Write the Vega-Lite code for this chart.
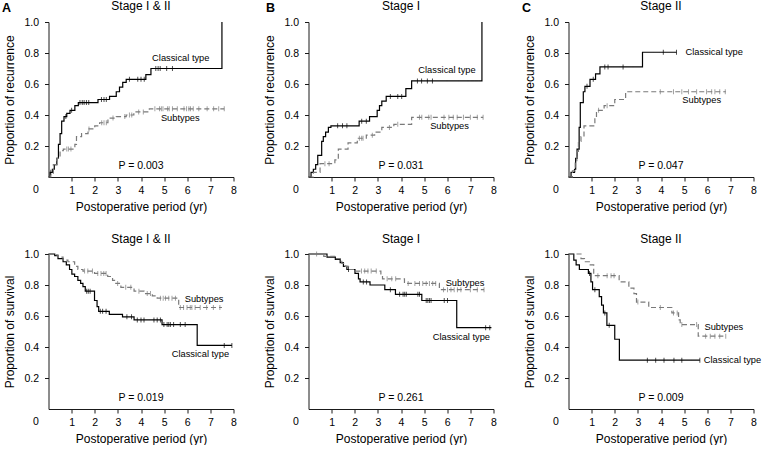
{
"$schema":"https://vega.github.io/schema/vega-lite/v6.json",
"padding":{"left":1.5,"top":0,"right":0,"bottom":0},
"autosize":{"type":"pad"},
"columns":3,
"spacing":{"row":77,"column":75},
"bounds":"flush",
"config":{
 "font":"Liberation Sans",
 "view":{"stroke":null},
 "axis":{"grid":false,"domainColor":"#1a1a1a","tickColor":"#1a1a1a","labelColor":"#000","titleColor":"#000","labelFontSize":10.5,"titleFontSize":12,"titleFontWeight":"normal","tickSize":4,"labelOverlap":false,"tickCount":20},
 "axisX":{"titlePadding":6,"labelPadding":4,"labelFlush":false},
 "axisY":{"labelPadding":6,"titlePadding":7},
 "text":{"color":"#000"}
},
"datasets":{
"curves":[
{"p":"A1","g":"C","t":0,"s":0},{"p":"A1","g":"C","t":0.07,"s":0.03},{"p":"A1","g":"C","t":0.17,"s":0.05},{"p":"A1","g":"C","t":0.25,"s":0.08},{"p":"A1","g":"C","t":0.36,"s":0.12},{"p":"A1","g":"C","t":0.43,"s":0.21},{"p":"A1","g":"C","t":0.5,"s":0.28},{"p":"A1","g":"C","t":0.57,"s":0.36},{"p":"A1","g":"C","t":0.67,"s":0.39},{"p":"A1","g":"C","t":0.79,"s":0.41},{"p":"A1","g":"C","t":0.93,"s":0.43},{"p":"A1","g":"C","t":1.14,"s":0.46},{"p":"A1","g":"C","t":1.29,"s":0.48},{"p":"A1","g":"C","t":2.14,"s":0.5},{"p":"A1","g":"C","t":2.64,"s":0.52},{"p":"A1","g":"C","t":2.93,"s":0.55},{"p":"A1","g":"C","t":3.07,"s":0.58},{"p":"A1","g":"C","t":3.21,"s":0.61},{"p":"A1","g":"C","t":3.36,"s":0.63},{"p":"A1","g":"C","t":4.21,"s":0.66},{"p":"A1","g":"C","t":4.43,"s":0.7},{"p":"A1","g":"C","t":7.5,"s":1},
{"p":"A1","g":"S","t":0,"s":0},{"p":"A1","g":"S","t":0.1,"s":0.02},{"p":"A1","g":"S","t":0.21,"s":0.08},{"p":"A1","g":"S","t":0.36,"s":0.12},{"p":"A1","g":"S","t":0.5,"s":0.17},{"p":"A1","g":"S","t":0.64,"s":0.18},{"p":"A1","g":"S","t":1.14,"s":0.21},{"p":"A1","g":"S","t":1.21,"s":0.26},{"p":"A1","g":"S","t":1.43,"s":0.28},{"p":"A1","g":"S","t":1.71,"s":0.31},{"p":"A1","g":"S","t":2.0,"s":0.33},{"p":"A1","g":"S","t":2.21,"s":0.35},{"p":"A1","g":"S","t":2.57,"s":0.38},{"p":"A1","g":"S","t":2.93,"s":0.39},{"p":"A1","g":"S","t":3.36,"s":0.4},{"p":"A1","g":"S","t":3.69,"s":0.42},{"p":"A1","g":"S","t":4.36,"s":0.44},{"p":"A1","g":"S","t":7.6,"s":0.44},
{"p":"B1","g":"C","t":0,"s":0},{"p":"B1","g":"C","t":0.11,"s":0.03},{"p":"B1","g":"C","t":0.21,"s":0.05},{"p":"B1","g":"C","t":0.31,"s":0.08},{"p":"B1","g":"C","t":0.4,"s":0.14},{"p":"B1","g":"C","t":0.57,"s":0.23},{"p":"B1","g":"C","t":0.64,"s":0.26},{"p":"B1","g":"C","t":0.74,"s":0.29},{"p":"B1","g":"C","t":0.86,"s":0.32},{"p":"B1","g":"C","t":0.97,"s":0.33},{"p":"B1","g":"C","t":2.19,"s":0.36},{"p":"B1","g":"C","t":2.64,"s":0.39},{"p":"B1","g":"C","t":2.97,"s":0.43},{"p":"B1","g":"C","t":3.07,"s":0.46},{"p":"B1","g":"C","t":3.17,"s":0.49},{"p":"B1","g":"C","t":3.36,"s":0.52},{"p":"B1","g":"C","t":4.21,"s":0.57},{"p":"B1","g":"C","t":4.46,"s":0.62},{"p":"B1","g":"C","t":7.5,"s":1},
{"p":"B1","g":"S","t":0,"s":0},{"p":"B1","g":"S","t":0.21,"s":0.03},{"p":"B1","g":"S","t":0.5,"s":0.086},{"p":"B1","g":"S","t":1.14,"s":0.11},{"p":"B1","g":"S","t":1.29,"s":0.18},{"p":"B1","g":"S","t":1.71,"s":0.22},{"p":"B1","g":"S","t":2.11,"s":0.25},{"p":"B1","g":"S","t":2.5,"s":0.27},{"p":"B1","g":"S","t":2.86,"s":0.29},{"p":"B1","g":"S","t":3.17,"s":0.32},{"p":"B1","g":"S","t":3.69,"s":0.34},{"p":"B1","g":"S","t":4.46,"s":0.385},{"p":"B1","g":"S","t":7.55,"s":0.385},
{"p":"C1","g":"C","t":0,"s":0},{"p":"C1","g":"C","t":0.11,"s":0.03},{"p":"C1","g":"C","t":0.26,"s":0.05},{"p":"C1","g":"C","t":0.31,"s":0.12},{"p":"C1","g":"C","t":0.37,"s":0.18},{"p":"C1","g":"C","t":0.46,"s":0.32},{"p":"C1","g":"C","t":0.51,"s":0.48},{"p":"C1","g":"C","t":0.64,"s":0.55},{"p":"C1","g":"C","t":0.71,"s":0.585},{"p":"C1","g":"C","t":0.93,"s":0.63},{"p":"C1","g":"C","t":1.17,"s":0.665},{"p":"C1","g":"C","t":1.36,"s":0.71},{"p":"C1","g":"C","t":3.2,"s":0.805},{"p":"C1","g":"C","t":4.67,"s":0.805},
{"p":"C1","g":"S","t":0,"s":0},{"p":"C1","g":"S","t":0.17,"s":0.04},{"p":"C1","g":"S","t":0.29,"s":0.09},{"p":"C1","g":"S","t":0.36,"s":0.165},{"p":"C1","g":"S","t":0.43,"s":0.23},{"p":"C1","g":"S","t":0.54,"s":0.26},{"p":"C1","g":"S","t":0.67,"s":0.33},{"p":"C1","g":"S","t":1.14,"s":0.38},{"p":"C1","g":"S","t":1.21,"s":0.43},{"p":"C1","g":"S","t":1.54,"s":0.46},{"p":"C1","g":"S","t":2.0,"s":0.5},{"p":"C1","g":"S","t":2.47,"s":0.55},{"p":"C1","g":"S","t":6.8,"s":0.55},
{"p":"A2","g":"C","t":0,"s":1},{"p":"A2","g":"C","t":0.27,"s":0.99},{"p":"A2","g":"C","t":0.41,"s":0.97},{"p":"A2","g":"C","t":0.63,"s":0.95},{"p":"A2","g":"C","t":0.77,"s":0.93},{"p":"A2","g":"C","t":0.91,"s":0.9},{"p":"A2","g":"C","t":1.01,"s":0.87},{"p":"A2","g":"C","t":1.13,"s":0.855},{"p":"A2","g":"C","t":1.27,"s":0.83},{"p":"A2","g":"C","t":1.39,"s":0.81},{"p":"A2","g":"C","t":1.49,"s":0.79},{"p":"A2","g":"C","t":1.59,"s":0.76},{"p":"A2","g":"C","t":1.99,"s":0.7},{"p":"A2","g":"C","t":2.1,"s":0.66},{"p":"A2","g":"C","t":2.17,"s":0.63},{"p":"A2","g":"C","t":2.63,"s":0.61},{"p":"A2","g":"C","t":3.2,"s":0.595},{"p":"A2","g":"C","t":3.7,"s":0.575},{"p":"A2","g":"C","t":4.91,"s":0.545},{"p":"A2","g":"C","t":6.43,"s":0.41},{"p":"A2","g":"C","t":7.93,"s":0.41},
{"p":"A2","g":"S","t":0,"s":1},{"p":"A2","g":"S","t":0.2,"s":0.995},{"p":"A2","g":"S","t":0.41,"s":0.98},{"p":"A2","g":"S","t":0.63,"s":0.96},{"p":"A2","g":"S","t":0.84,"s":0.95},{"p":"A2","g":"S","t":1.13,"s":0.92},{"p":"A2","g":"S","t":1.27,"s":0.9},{"p":"A2","g":"S","t":1.49,"s":0.89},{"p":"A2","g":"S","t":1.99,"s":0.875},{"p":"A2","g":"S","t":2.56,"s":0.855},{"p":"A2","g":"S","t":2.77,"s":0.83},{"p":"A2","g":"S","t":2.91,"s":0.81},{"p":"A2","g":"S","t":3.13,"s":0.785},{"p":"A2","g":"S","t":3.7,"s":0.76},{"p":"A2","g":"S","t":4.13,"s":0.745},{"p":"A2","g":"S","t":4.49,"s":0.73},{"p":"A2","g":"S","t":4.7,"s":0.715},{"p":"A2","g":"S","t":5.63,"s":0.655},{"p":"A2","g":"S","t":7.5,"s":0.655},
{"p":"B2","g":"C","t":0,"s":1},{"p":"B2","g":"C","t":0.8,"s":0.98},{"p":"B2","g":"C","t":1.16,"s":0.965},{"p":"B2","g":"C","t":1.37,"s":0.945},{"p":"B2","g":"C","t":1.51,"s":0.92},{"p":"B2","g":"C","t":1.66,"s":0.9},{"p":"B2","g":"C","t":2.01,"s":0.875},{"p":"B2","g":"C","t":2.16,"s":0.84},{"p":"B2","g":"C","t":2.23,"s":0.82},{"p":"B2","g":"C","t":2.66,"s":0.8},{"p":"B2","g":"C","t":3.3,"s":0.77},{"p":"B2","g":"C","t":3.76,"s":0.74},{"p":"B2","g":"C","t":4.9,"s":0.7},{"p":"B2","g":"C","t":6.41,"s":0.525},{"p":"B2","g":"C","t":7.91,"s":0.525},
{"p":"B2","g":"S","t":0,"s":1},{"p":"B2","g":"S","t":0.66,"s":0.985},{"p":"B2","g":"S","t":1.16,"s":0.97},{"p":"B2","g":"S","t":1.44,"s":0.94},{"p":"B2","g":"S","t":1.59,"s":0.92},{"p":"B2","g":"S","t":1.73,"s":0.9},{"p":"B2","g":"S","t":2.01,"s":0.89},{"p":"B2","g":"S","t":3.13,"s":0.865},{"p":"B2","g":"S","t":3.2,"s":0.84},{"p":"B2","g":"S","t":4.15,"s":0.81},{"p":"B2","g":"S","t":5.66,"s":0.77},{"p":"B2","g":"S","t":7.59,"s":0.77},
{"p":"C2","g":"C","t":0,"s":1},{"p":"C2","g":"C","t":0.23,"s":0.96},{"p":"C2","g":"C","t":0.33,"s":0.93},{"p":"C2","g":"C","t":0.47,"s":0.9},{"p":"C2","g":"C","t":0.86,"s":0.875},{"p":"C2","g":"C","t":0.97,"s":0.82},{"p":"C2","g":"C","t":1.04,"s":0.77},{"p":"C2","g":"C","t":1.33,"s":0.725},{"p":"C2","g":"C","t":1.43,"s":0.67},{"p":"C2","g":"C","t":1.51,"s":0.62},{"p":"C2","g":"C","t":1.66,"s":0.54},{"p":"C2","g":"C","t":2.0,"s":0.45},{"p":"C2","g":"C","t":2.2,"s":0.315},{"p":"C2","g":"C","t":5.68,"s":0.315},
{"p":"C2","g":"S","t":0,"s":1},{"p":"C2","g":"S","t":0.54,"s":0.97},{"p":"C2","g":"S","t":0.69,"s":0.95},{"p":"C2","g":"S","t":0.9,"s":0.93},{"p":"C2","g":"S","t":1.09,"s":0.86},{"p":"C2","g":"S","t":2.19,"s":0.82},{"p":"C2","g":"S","t":2.61,"s":0.78},{"p":"C2","g":"S","t":2.83,"s":0.745},{"p":"C2","g":"S","t":2.94,"s":0.69},{"p":"C2","g":"S","t":3.47,"s":0.655},{"p":"C2","g":"S","t":4.47,"s":0.62},{"p":"C2","g":"S","t":4.76,"s":0.575},{"p":"C2","g":"S","t":4.83,"s":0.545},{"p":"C2","g":"S","t":5.61,"s":0.47},{"p":"C2","g":"S","t":6.8,"s":0.47}
],
"censors":[
{"p":"A1","g":"C","t":0.1,"s":0.03},{"p":"A1","g":"C","t":0.75,"s":0.39},{"p":"A1","g":"C","t":1.0,"s":0.43},{"p":"A1","g":"C","t":1.36,"s":0.48},{"p":"A1","g":"C","t":1.46,"s":0.48},{"p":"A1","g":"C","t":1.54,"s":0.48},{"p":"A1","g":"C","t":1.64,"s":0.48},{"p":"A1","g":"C","t":1.74,"s":0.48},{"p":"A1","g":"C","t":2.29,"s":0.5},{"p":"A1","g":"C","t":2.4,"s":0.5},{"p":"A1","g":"C","t":2.5,"s":0.5},{"p":"A1","g":"C","t":3.5,"s":0.63},{"p":"A1","g":"C","t":3.86,"s":0.63},{"p":"A1","g":"C","t":4.0,"s":0.63},{"p":"A1","g":"C","t":4.14,"s":0.63},{"p":"A1","g":"C","t":4.64,"s":0.7},{"p":"A1","g":"C","t":4.74,"s":0.7},{"p":"A1","g":"C","t":4.83,"s":0.7},{"p":"A1","g":"C","t":5.11,"s":0.7},{"p":"A1","g":"C","t":5.36,"s":0.7},
{"p":"A1","g":"S","t":0.79,"s":0.18},{"p":"A1","g":"S","t":0.86,"s":0.18},{"p":"A1","g":"S","t":0.97,"s":0.18},{"p":"A1","g":"S","t":1.75,"s":0.31},{"p":"A1","g":"S","t":2.3,"s":0.35},{"p":"A1","g":"S","t":2.4,"s":0.35},{"p":"A1","g":"S","t":2.5,"s":0.35},{"p":"A1","g":"S","t":2.79,"s":0.38},{"p":"A1","g":"S","t":3.3,"s":0.39},{"p":"A1","g":"S","t":3.5,"s":0.4},{"p":"A1","g":"S","t":3.6,"s":0.4},{"p":"A1","g":"S","t":3.9,"s":0.42},{"p":"A1","g":"S","t":4.1,"s":0.42},{"p":"A1","g":"S","t":4.6,"s":0.44},{"p":"A1","g":"S","t":4.8,"s":0.44},{"p":"A1","g":"S","t":4.88,"s":0.44},{"p":"A1","g":"S","t":4.95,"s":0.44},{"p":"A1","g":"S","t":5.15,"s":0.44},{"p":"A1","g":"S","t":5.22,"s":0.44},{"p":"A1","g":"S","t":5.36,"s":0.44},{"p":"A1","g":"S","t":5.57,"s":0.44},{"p":"A1","g":"S","t":5.86,"s":0.44},{"p":"A1","g":"S","t":5.97,"s":0.44},{"p":"A1","g":"S","t":6.07,"s":0.44},{"p":"A1","g":"S","t":6.14,"s":0.44},{"p":"A1","g":"S","t":6.26,"s":0.44},{"p":"A1","g":"S","t":6.5,"s":0.44},{"p":"A1","g":"S","t":6.86,"s":0.44},{"p":"A1","g":"S","t":7.14,"s":0.44},{"p":"A1","g":"S","t":7.36,"s":0.44},{"p":"A1","g":"S","t":7.6,"s":0.44},
{"p":"B1","g":"C","t":1.26,"s":0.33},{"p":"B1","g":"C","t":1.47,"s":0.33},{"p":"B1","g":"C","t":1.66,"s":0.33},{"p":"B1","g":"C","t":2.3,"s":0.36},{"p":"B1","g":"C","t":2.5,"s":0.36},{"p":"B1","g":"C","t":3.54,"s":0.52},{"p":"B1","g":"C","t":3.86,"s":0.52},{"p":"B1","g":"C","t":4.03,"s":0.52},{"p":"B1","g":"C","t":4.71,"s":0.62},{"p":"B1","g":"C","t":4.89,"s":0.62},{"p":"B1","g":"C","t":5.14,"s":0.62},{"p":"B1","g":"C","t":5.36,"s":0.62},
{"p":"B1","g":"S","t":0.71,"s":0.086},{"p":"B1","g":"S","t":0.89,"s":0.086},{"p":"B1","g":"S","t":2.2,"s":0.25},{"p":"B1","g":"S","t":2.3,"s":0.25},{"p":"B1","g":"S","t":2.36,"s":0.25},{"p":"B1","g":"S","t":2.76,"s":0.27},{"p":"B1","g":"S","t":3.5,"s":0.32},{"p":"B1","g":"S","t":3.86,"s":0.34},{"p":"B1","g":"S","t":4.8,"s":0.385},{"p":"B1","g":"S","t":4.9,"s":0.385},{"p":"B1","g":"S","t":5.2,"s":0.385},{"p":"B1","g":"S","t":5.3,"s":0.385},{"p":"B1","g":"S","t":5.86,"s":0.385},{"p":"B1","g":"S","t":6.07,"s":0.385},{"p":"B1","g":"S","t":6.26,"s":0.385},{"p":"B1","g":"S","t":6.43,"s":0.385},{"p":"B1","g":"S","t":6.7,"s":0.385},{"p":"B1","g":"S","t":7.0,"s":0.385},{"p":"B1","g":"S","t":7.3,"s":0.385},{"p":"B1","g":"S","t":7.55,"s":0.385},
{"p":"C1","g":"C","t":0.8,"s":0.585},{"p":"C1","g":"C","t":1.07,"s":0.63},{"p":"C1","g":"C","t":1.57,"s":0.71},{"p":"C1","g":"C","t":1.71,"s":0.71},{"p":"C1","g":"C","t":2.36,"s":0.71},{"p":"C1","g":"C","t":4.1,"s":0.805},{"p":"C1","g":"C","t":4.67,"s":0.805},
{"p":"C1","g":"S","t":1.3,"s":0.43},{"p":"C1","g":"S","t":1.67,"s":0.46},{"p":"C1","g":"S","t":3.97,"s":0.55},{"p":"C1","g":"S","t":4.54,"s":0.55},{"p":"C1","g":"S","t":4.9,"s":0.55},{"p":"C1","g":"S","t":5.19,"s":0.55},{"p":"C1","g":"S","t":5.54,"s":0.55},{"p":"C1","g":"S","t":5.97,"s":0.55},{"p":"C1","g":"S","t":6.19,"s":0.55},{"p":"C1","g":"S","t":6.33,"s":0.55},{"p":"C1","g":"S","t":6.54,"s":0.55},{"p":"C1","g":"S","t":6.78,"s":0.55},
{"p":"A2","g":"C","t":1.65,"s":0.76},{"p":"A2","g":"C","t":1.72,"s":0.76},{"p":"A2","g":"C","t":1.8,"s":0.76},{"p":"A2","g":"C","t":2.24,"s":0.63},{"p":"A2","g":"C","t":2.34,"s":0.63},{"p":"A2","g":"C","t":2.49,"s":0.63},{"p":"A2","g":"C","t":3.39,"s":0.595},{"p":"A2","g":"C","t":3.59,"s":0.595},{"p":"A2","g":"C","t":3.84,"s":0.575},{"p":"A2","g":"C","t":4.0,"s":0.575},{"p":"A2","g":"C","t":4.13,"s":0.575},{"p":"A2","g":"C","t":4.56,"s":0.575},{"p":"A2","g":"C","t":4.7,"s":0.575},{"p":"A2","g":"C","t":4.84,"s":0.575},{"p":"A2","g":"C","t":4.99,"s":0.545},{"p":"A2","g":"C","t":5.13,"s":0.545},{"p":"A2","g":"C","t":5.2,"s":0.545},{"p":"A2","g":"C","t":5.27,"s":0.545},{"p":"A2","g":"C","t":5.41,"s":0.545},{"p":"A2","g":"C","t":5.7,"s":0.545},{"p":"A2","g":"C","t":5.91,"s":0.545},{"p":"A2","g":"C","t":7.6,"s":0.41},{"p":"A2","g":"C","t":7.93,"s":0.41},
{"p":"A2","g":"S","t":1.56,"s":0.89},{"p":"A2","g":"S","t":1.7,"s":0.89},{"p":"A2","g":"S","t":1.9,"s":0.89},{"p":"A2","g":"S","t":2.13,"s":0.875},{"p":"A2","g":"S","t":2.27,"s":0.875},{"p":"A2","g":"S","t":2.39,"s":0.875},{"p":"A2","g":"S","t":2.49,"s":0.875},{"p":"A2","g":"S","t":2.99,"s":0.81},{"p":"A2","g":"S","t":3.34,"s":0.785},{"p":"A2","g":"S","t":3.56,"s":0.785},{"p":"A2","g":"S","t":3.91,"s":0.76},{"p":"A2","g":"S","t":4.27,"s":0.745},{"p":"A2","g":"S","t":4.41,"s":0.745},{"p":"A2","g":"S","t":4.84,"s":0.715},{"p":"A2","g":"S","t":4.96,"s":0.715},{"p":"A2","g":"S","t":5.06,"s":0.715},{"p":"A2","g":"S","t":5.2,"s":0.715},{"p":"A2","g":"S","t":5.34,"s":0.715},{"p":"A2","g":"S","t":5.49,"s":0.715},{"p":"A2","g":"S","t":5.7,"s":0.655},{"p":"A2","g":"S","t":5.84,"s":0.655},{"p":"A2","g":"S","t":5.99,"s":0.655},{"p":"A2","g":"S","t":6.13,"s":0.655},{"p":"A2","g":"S","t":6.2,"s":0.655},{"p":"A2","g":"S","t":6.34,"s":0.655},{"p":"A2","g":"S","t":6.56,"s":0.655},{"p":"A2","g":"S","t":6.84,"s":0.655},{"p":"A2","g":"S","t":7.13,"s":0.655},{"p":"A2","g":"S","t":7.41,"s":0.655},
{"p":"B2","g":"C","t":1.73,"s":0.9},{"p":"B2","g":"C","t":2.37,"s":0.82},{"p":"B2","g":"C","t":2.51,"s":0.82},{"p":"B2","g":"C","t":3.54,"s":0.77},{"p":"B2","g":"C","t":3.94,"s":0.74},{"p":"B2","g":"C","t":4.09,"s":0.74},{"p":"B2","g":"C","t":4.16,"s":0.74},{"p":"B2","g":"C","t":4.23,"s":0.74},{"p":"B2","g":"C","t":4.73,"s":0.74},{"p":"B2","g":"C","t":4.8,"s":0.74},{"p":"B2","g":"C","t":5.09,"s":0.7},{"p":"B2","g":"C","t":5.16,"s":0.7},{"p":"B2","g":"C","t":5.23,"s":0.7},{"p":"B2","g":"C","t":5.3,"s":0.7},{"p":"B2","g":"C","t":5.87,"s":0.7},{"p":"B2","g":"C","t":6.01,"s":0.7},{"p":"B2","g":"C","t":7.66,"s":0.525},{"p":"B2","g":"C","t":7.84,"s":0.525},
{"p":"B2","g":"S","t":0.35,"s":1},{"p":"B2","g":"S","t":2.29,"s":0.89},{"p":"B2","g":"S","t":2.43,"s":0.89},{"p":"B2","g":"S","t":2.57,"s":0.89},{"p":"B2","g":"S","t":2.71,"s":0.89},{"p":"B2","g":"S","t":2.93,"s":0.89},{"p":"B2","g":"S","t":3.4,"s":0.84},{"p":"B2","g":"S","t":3.6,"s":0.84},{"p":"B2","g":"S","t":3.77,"s":0.84},{"p":"B2","g":"S","t":4.31,"s":0.81},{"p":"B2","g":"S","t":4.6,"s":0.81},{"p":"B2","g":"S","t":4.8,"s":0.81},{"p":"B2","g":"S","t":4.94,"s":0.81},{"p":"B2","g":"S","t":5.09,"s":0.81},{"p":"B2","g":"S","t":5.23,"s":0.81},{"p":"B2","g":"S","t":5.37,"s":0.81},{"p":"B2","g":"S","t":5.5,"s":0.81},{"p":"B2","g":"S","t":5.84,"s":0.77},{"p":"B2","g":"S","t":6.01,"s":0.77},{"p":"B2","g":"S","t":6.16,"s":0.77},{"p":"B2","g":"S","t":6.3,"s":0.77},{"p":"B2","g":"S","t":6.44,"s":0.77},{"p":"B2","g":"S","t":6.59,"s":0.77},{"p":"B2","g":"S","t":7.0,"s":0.77},{"p":"B2","g":"S","t":7.3,"s":0.77},{"p":"B2","g":"S","t":7.59,"s":0.77},
{"p":"C2","g":"C","t":0.91,"s":0.875},{"p":"C2","g":"C","t":1.14,"s":0.77},{"p":"C2","g":"C","t":1.57,"s":0.62},{"p":"C2","g":"C","t":1.76,"s":0.54},{"p":"C2","g":"C","t":3.41,"s":0.315},{"p":"C2","g":"C","t":3.77,"s":0.315},{"p":"C2","g":"C","t":4.13,"s":0.315},{"p":"C2","g":"C","t":4.56,"s":0.315},{"p":"C2","g":"C","t":4.9,"s":0.315},{"p":"C2","g":"C","t":5.68,"s":0.315},
{"p":"C2","g":"S","t":1.27,"s":0.86},{"p":"C2","g":"S","t":1.67,"s":0.86},{"p":"C2","g":"S","t":1.84,"s":0.86},{"p":"C2","g":"S","t":1.97,"s":0.86},{"p":"C2","g":"S","t":3.0,"s":0.69},{"p":"C2","g":"S","t":3.97,"s":0.655},{"p":"C2","g":"S","t":4.54,"s":0.62},{"p":"C2","g":"S","t":4.7,"s":0.62},{"p":"C2","g":"S","t":4.9,"s":0.545},{"p":"C2","g":"S","t":5.54,"s":0.545},{"p":"C2","g":"S","t":5.93,"s":0.47},{"p":"C2","g":"S","t":6.13,"s":0.47},{"p":"C2","g":"S","t":6.33,"s":0.47},{"p":"C2","g":"S","t":6.54,"s":0.47},{"p":"C2","g":"S","t":6.8,"s":0.47}
]
},
"concat":[
{"width":185,"height":155,"layer":[
 {"data":{"name":"curves"},"transform":[{"filter":"datum.p==='A1'"}],"mark":{"type":"line","interpolate":"step-after","strokeWidth":1.2},"encoding":{"x":{"field":"t","type":"quantitative","scale":{"domain":[0,8],"nice":false},"axis":{"values":[1,2,3,4,5,6,7,8],"format":"d","labelOverlap":false,"tickCount":20},"title":"Postoperative period (yr)"},"y":{"field":"s","type":"quantitative","scale":{"domain":[0,1],"nice":false},"axis":{"values":[0.2,0.4,0.6,0.8,1],"format":".1f","labelOverlap":false,"tickCount":20},"title":"Proportion of recurrence"},"color":{"field":"g","type":"nominal","scale":{"domain":["C","S"],"range":["#000000","#7a7a7a"]},"legend":null},"strokeDash":{"field":"g","type":"nominal","scale":{"domain":["C","S"],"range":[[1,0],[5,3]]},"legend":null}}},
 {"data":{"name":"censors"},"transform":[{"filter":"datum.p==='A1'"}],"mark":{"type":"tick","orient":"vertical","size":5,"thickness":1},"encoding":{"x":{"field":"t","type":"quantitative"},"y":{"field":"s","type":"quantitative"},"color":{"field":"g","type":"nominal","legend":null}}},
 {"data":{"values":[{}]},"mark":{"type":"text","align":"left","baseline":"middle","fontSize":9.3},"encoding":{"x":{"datum":4.48},"y":{"datum":0.77},"text":{"value":"Classical type"}}},
 {"data":{"values":[{}]},"mark":{"type":"text","align":"left","baseline":"middle","fontSize":9.3},"encoding":{"x":{"datum":4.86},"y":{"datum":0.38},"text":{"value":"Subtypes"}}},
 {"data":{"values":[{}]},"mark":{"type":"text","align":"center","baseline":"middle","fontSize":10.5},"encoding":{"x":{"datum":4},"y":{"datum":0.073},"text":{"value":"P = 0.003"}}},
 {"data":{"values":[{}]},"mark":{"type":"text","align":"center","baseline":"top","dx":-12.5,"dy":8,"fontSize":10.5},"encoding":{"x":{"datum":0},"y":{"datum":0},"text":{"value":"0"}}},
 {"data":{"values":[{}]},"mark":{"type":"text","align":"center","baseline":"alphabetic","dy":-12,"fontSize":12},"encoding":{"x":{"datum":4},"y":{"datum":1},"text":{"value":"Stage I & II"}}},
 {"data":{"values":[{}]},"mark":{"type":"text","align":"left","baseline":"alphabetic","dx":-46.5,"dy":-10.5,"fontSize":12.5,"fontWeight":"bold"},"encoding":{"x":{"datum":0},"y":{"datum":1},"text":{"value":"A"}}}
]},
{"width":185,"height":155,"layer":[
 {"data":{"name":"curves"},"transform":[{"filter":"datum.p==='B1'"}],"mark":{"type":"line","interpolate":"step-after","strokeWidth":1.2},"encoding":{"x":{"field":"t","type":"quantitative","scale":{"domain":[0,8],"nice":false},"axis":{"values":[1,2,3,4,5,6,7,8],"format":"d","labelOverlap":false,"tickCount":20},"title":"Postoperative period (yr)"},"y":{"field":"s","type":"quantitative","scale":{"domain":[0,1],"nice":false},"axis":{"values":[0.2,0.4,0.6,0.8,1],"format":".1f","labelOverlap":false,"tickCount":20},"title":"Proportion of recurrence"},"color":{"field":"g","type":"nominal","scale":{"domain":["C","S"],"range":["#000000","#7a7a7a"]},"legend":null},"strokeDash":{"field":"g","type":"nominal","scale":{"domain":["C","S"],"range":[[1,0],[5,3]]},"legend":null}}},
 {"data":{"name":"censors"},"transform":[{"filter":"datum.p==='B1'"}],"mark":{"type":"tick","orient":"vertical","size":5,"thickness":1},"encoding":{"x":{"field":"t","type":"quantitative"},"y":{"field":"s","type":"quantitative"},"color":{"field":"g","type":"nominal","legend":null}}},
 {"data":{"values":[{}]},"mark":{"type":"text","align":"left","baseline":"middle","fontSize":9.3},"encoding":{"x":{"datum":4.75},"y":{"datum":0.69},"text":{"value":"Classical type"}}},
 {"data":{"values":[{}]},"mark":{"type":"text","align":"left","baseline":"middle","fontSize":9.3},"encoding":{"x":{"datum":5.26},"y":{"datum":0.327},"text":{"value":"Subtypes"}}},
 {"data":{"values":[{}]},"mark":{"type":"text","align":"center","baseline":"middle","fontSize":10.5},"encoding":{"x":{"datum":4},"y":{"datum":0.073},"text":{"value":"P = 0.031"}}},
 {"data":{"values":[{}]},"mark":{"type":"text","align":"center","baseline":"top","dx":-12.5,"dy":8,"fontSize":10.5},"encoding":{"x":{"datum":0},"y":{"datum":0},"text":{"value":"0"}}},
 {"data":{"values":[{}]},"mark":{"type":"text","align":"center","baseline":"alphabetic","dy":-12,"fontSize":12},"encoding":{"x":{"datum":4},"y":{"datum":1},"text":{"value":"Stage I"}}},
 {"data":{"values":[{}]},"mark":{"type":"text","align":"left","baseline":"alphabetic","dx":-42.5,"dy":-10.5,"fontSize":12.5,"fontWeight":"bold"},"encoding":{"x":{"datum":0},"y":{"datum":1},"text":{"value":"B"}}}
]},
{"width":185,"height":155,"layer":[
 {"data":{"name":"curves"},"transform":[{"filter":"datum.p==='C1'"}],"mark":{"type":"line","interpolate":"step-after","strokeWidth":1.2},"encoding":{"x":{"field":"t","type":"quantitative","scale":{"domain":[0,8],"nice":false},"axis":{"values":[1,2,3,4,5,6,7,8],"format":"d","labelOverlap":false,"tickCount":20},"title":"Postoperative period (yr)"},"y":{"field":"s","type":"quantitative","scale":{"domain":[0,1],"nice":false},"axis":{"values":[0.2,0.4,0.6,0.8,1],"format":".1f","labelOverlap":false,"tickCount":20},"title":"Proportion of recurrence"},"color":{"field":"g","type":"nominal","scale":{"domain":["C","S"],"range":["#000000","#7a7a7a"]},"legend":null},"strokeDash":{"field":"g","type":"nominal","scale":{"domain":["C","S"],"range":[[1,0],[5,3]]},"legend":null}}},
 {"data":{"name":"censors"},"transform":[{"filter":"datum.p==='C1'"}],"mark":{"type":"tick","orient":"vertical","size":5,"thickness":1},"encoding":{"x":{"field":"t","type":"quantitative"},"y":{"field":"s","type":"quantitative"},"color":{"field":"g","type":"nominal","legend":null}}},
 {"data":{"values":[{}]},"mark":{"type":"text","align":"left","baseline":"middle","fontSize":9.3},"encoding":{"x":{"datum":5.06},"y":{"datum":0.805},"text":{"value":"Classical type"}}},
 {"data":{"values":[{}]},"mark":{"type":"text","align":"left","baseline":"middle","fontSize":9.3},"encoding":{"x":{"datum":4.92},"y":{"datum":0.5},"text":{"value":"Subtypes"}}},
 {"data":{"values":[{}]},"mark":{"type":"text","align":"center","baseline":"middle","fontSize":10.5},"encoding":{"x":{"datum":4},"y":{"datum":0.073},"text":{"value":"P = 0.047"}}},
 {"data":{"values":[{}]},"mark":{"type":"text","align":"center","baseline":"top","dx":-12.5,"dy":8,"fontSize":10.5},"encoding":{"x":{"datum":0},"y":{"datum":0},"text":{"value":"0"}}},
 {"data":{"values":[{}]},"mark":{"type":"text","align":"center","baseline":"alphabetic","dy":-12,"fontSize":12},"encoding":{"x":{"datum":4},"y":{"datum":1},"text":{"value":"Stage II"}}},
 {"data":{"values":[{}]},"mark":{"type":"text","align":"left","baseline":"alphabetic","dx":-46.5,"dy":-10.5,"fontSize":12.5,"fontWeight":"bold"},"encoding":{"x":{"datum":0},"y":{"datum":1},"text":{"value":"C"}}}
]},
{"width":185,"height":155,"layer":[
 {"data":{"name":"curves"},"transform":[{"filter":"datum.p==='A2'"}],"mark":{"type":"line","interpolate":"step-after","strokeWidth":1.2},"encoding":{"x":{"field":"t","type":"quantitative","scale":{"domain":[0,8],"nice":false},"axis":{"values":[1,2,3,4,5,6,7,8],"format":"d","labelOverlap":false,"tickCount":20},"title":"Postoperative period (yr)"},"y":{"field":"s","type":"quantitative","scale":{"domain":[0,1],"nice":false},"axis":{"values":[0.2,0.4,0.6,0.8,1],"format":".1f","labelOverlap":false,"tickCount":20},"title":"Proportion of survival"},"color":{"field":"g","type":"nominal","scale":{"domain":["C","S"],"range":["#000000","#7a7a7a"]},"legend":null},"strokeDash":{"field":"g","type":"nominal","scale":{"domain":["C","S"],"range":[[1,0],[5,3]]},"legend":null}}},
 {"data":{"name":"censors"},"transform":[{"filter":"datum.p==='A2'"}],"mark":{"type":"tick","orient":"vertical","size":5,"thickness":1},"encoding":{"x":{"field":"t","type":"quantitative"},"y":{"field":"s","type":"quantitative"},"color":{"field":"g","type":"nominal","legend":null}}},
 {"data":{"values":[{}]},"mark":{"type":"text","align":"left","baseline":"middle","fontSize":9.3},"encoding":{"x":{"datum":5.33},"y":{"datum":0.355},"text":{"value":"Classical type"}}},
 {"data":{"values":[{}]},"mark":{"type":"text","align":"left","baseline":"middle","fontSize":9.3},"encoding":{"x":{"datum":5.89},"y":{"datum":0.708},"text":{"value":"Subtypes"}}},
 {"data":{"values":[{}]},"mark":{"type":"text","align":"center","baseline":"middle","fontSize":10.5},"encoding":{"x":{"datum":4},"y":{"datum":0.073},"text":{"value":"P = 0.019"}}},
 {"data":{"values":[{}]},"mark":{"type":"text","align":"center","baseline":"top","dx":-12.5,"dy":8,"fontSize":10.5},"encoding":{"x":{"datum":0},"y":{"datum":0},"text":{"value":"0"}}},
 {"data":{"values":[{}]},"mark":{"type":"text","align":"center","baseline":"alphabetic","dy":-11,"fontSize":12},"encoding":{"x":{"datum":4},"y":{"datum":1},"text":{"value":"Stage I & II"}}}
]},
{"width":185,"height":155,"layer":[
 {"data":{"name":"curves"},"transform":[{"filter":"datum.p==='B2'"}],"mark":{"type":"line","interpolate":"step-after","strokeWidth":1.2},"encoding":{"x":{"field":"t","type":"quantitative","scale":{"domain":[0,8],"nice":false},"axis":{"values":[1,2,3,4,5,6,7,8],"format":"d","labelOverlap":false,"tickCount":20},"title":"Postoperative period (yr)"},"y":{"field":"s","type":"quantitative","scale":{"domain":[0,1],"nice":false},"axis":{"values":[0.2,0.4,0.6,0.8,1],"format":".1f","labelOverlap":false,"tickCount":20},"title":"Proportion of survival"},"color":{"field":"g","type":"nominal","scale":{"domain":["C","S"],"range":["#000000","#7a7a7a"]},"legend":null},"strokeDash":{"field":"g","type":"nominal","scale":{"domain":["C","S"],"range":[[1,0],[5,3]]},"legend":null}}},
 {"data":{"name":"censors"},"transform":[{"filter":"datum.p==='B2'"}],"mark":{"type":"tick","orient":"vertical","size":5,"thickness":1},"encoding":{"x":{"field":"t","type":"quantitative"},"y":{"field":"s","type":"quantitative"},"color":{"field":"g","type":"nominal","legend":null}}},
 {"data":{"values":[{}]},"mark":{"type":"text","align":"left","baseline":"middle","fontSize":9.3},"encoding":{"x":{"datum":5.37},"y":{"datum":0.463},"text":{"value":"Classical type"}}},
 {"data":{"values":[{}]},"mark":{"type":"text","align":"left","baseline":"middle","fontSize":9.3},"encoding":{"x":{"datum":5.93},"y":{"datum":0.81},"text":{"value":"Subtypes"}}},
 {"data":{"values":[{}]},"mark":{"type":"text","align":"center","baseline":"middle","fontSize":10.5},"encoding":{"x":{"datum":4},"y":{"datum":0.073},"text":{"value":"P = 0.261"}}},
 {"data":{"values":[{}]},"mark":{"type":"text","align":"center","baseline":"top","dx":-12.5,"dy":8,"fontSize":10.5},"encoding":{"x":{"datum":0},"y":{"datum":0},"text":{"value":"0"}}},
 {"data":{"values":[{}]},"mark":{"type":"text","align":"center","baseline":"alphabetic","dy":-11,"fontSize":12},"encoding":{"x":{"datum":4},"y":{"datum":1},"text":{"value":"Stage I"}}}
]},
{"width":185,"height":155,"layer":[
 {"data":{"name":"curves"},"transform":[{"filter":"datum.p==='C2'"}],"mark":{"type":"line","interpolate":"step-after","strokeWidth":1.2},"encoding":{"x":{"field":"t","type":"quantitative","scale":{"domain":[0,8],"nice":false},"axis":{"values":[1,2,3,4,5,6,7,8],"format":"d","labelOverlap":false,"tickCount":20},"title":"Postoperative period (yr)"},"y":{"field":"s","type":"quantitative","scale":{"domain":[0,1],"nice":false},"axis":{"values":[0.2,0.4,0.6,0.8,1],"format":".1f","labelOverlap":false,"tickCount":20},"title":"Proportion of survival"},"color":{"field":"g","type":"nominal","scale":{"domain":["C","S"],"range":["#000000","#7a7a7a"]},"legend":null},"strokeDash":{"field":"g","type":"nominal","scale":{"domain":["C","S"],"range":[[1,0],[5,3]]},"legend":null}}},
 {"data":{"name":"censors"},"transform":[{"filter":"datum.p==='C2'"}],"mark":{"type":"tick","orient":"vertical","size":5,"thickness":1},"encoding":{"x":{"field":"t","type":"quantitative"},"y":{"field":"s","type":"quantitative"},"color":{"field":"g","type":"nominal","legend":null}}},
 {"data":{"values":[{}]},"mark":{"type":"text","align":"left","baseline":"middle","fontSize":9.3},"encoding":{"x":{"datum":5.85},"y":{"datum":0.316},"text":{"value":"Classical type"}}},
 {"data":{"values":[{}]},"mark":{"type":"text","align":"left","baseline":"middle","fontSize":9.3},"encoding":{"x":{"datum":5.88},"y":{"datum":0.531},"text":{"value":"Subtypes"}}},
 {"data":{"values":[{}]},"mark":{"type":"text","align":"center","baseline":"middle","fontSize":10.5},"encoding":{"x":{"datum":4},"y":{"datum":0.073},"text":{"value":"P = 0.009"}}},
 {"data":{"values":[{}]},"mark":{"type":"text","align":"center","baseline":"top","dx":-12.5,"dy":8,"fontSize":10.5},"encoding":{"x":{"datum":0},"y":{"datum":0},"text":{"value":"0"}}},
 {"data":{"values":[{}]},"mark":{"type":"text","align":"center","baseline":"alphabetic","dy":-11,"fontSize":12},"encoding":{"x":{"datum":4},"y":{"datum":1},"text":{"value":"Stage II"}}}
]}
]
}
